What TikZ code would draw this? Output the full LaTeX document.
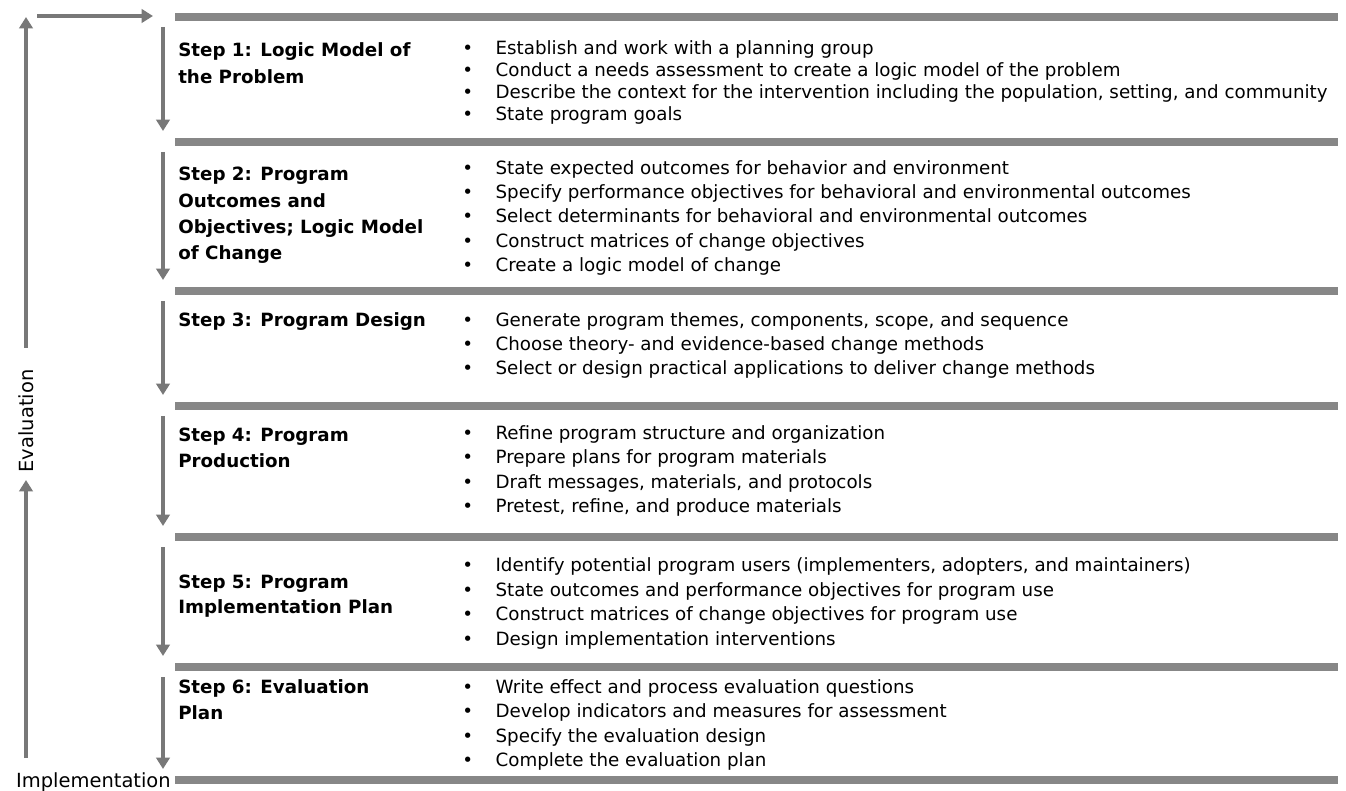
\documentclass[tikz,border=0pt]{standalone}
\usepackage{fontspec}
\setmainfont{DejaVu Sans}
\usetikzlibrary{arrows.meta}
\definecolor{bargray}{RGB}{135,135,135}
\definecolor{arrgray}{RGB}{120,120,120}

\begin{document}
\begin{tikzpicture}[x=0.75pt, y=-0.75pt,
  bar/.style={line width=6.5pt, bargray},
  flow/.style={line width=2.8pt, arrgray, -{Triangle[width=10pt,length=8.5pt]}},
  title/.style={anchor=base west, inner sep=0pt, font=\fontsize{13.7}{16}\selectfont\bfseries},
  item/.style={anchor=base west, inner sep=0pt, font=\fontsize{13.7}{16}\selectfont},
  side/.style={inner sep=0pt, font=\fontsize{14.6}{17}\selectfont}]

\useasboundingbox (0,0) rectangle (1346,791);

%barres
\foreach \y [count=\k] in {17,142,291,406,537,667,780}
   {\draw [bar] (175,\y) -- (1338,\y);
   \coordinate (top\k) at (163,\y+10);
   \coordinate (bot\k) at (163,\y-11);
   }

%fleches des etapes
\foreach \a/\b in {1/2,2/3,3/4,4/5,5/6,6/7}
   {\draw [flow] (top\a) -- (bot\b);
   }

%evaluation / implementation
\node [side, rotate=90] (eval) at (26,421) {Evaluation};
\node [side, anchor=base east] (impl) at (171,787) {Implementation};
\coordinate (lb) at (26,758);
\coordinate (ev1) at (26,348);
\coordinate (ev2) at (26,480);
\coordinate (lt) at (26,17);
\coordinate (hl) at (37,16);
\coordinate (hr) at (153,16);
\draw [flow] (lb) -- (ev2);
\draw [flow] (ev1) -- (lt);
\draw [flow] (hl) -- (hr);

%step 1
\foreach \l [count=\i from 0] in {Step 1: Logic Model of, the Problem}
   \node [title] (t1-\i) at (178,57+26.3*\i) {\l};
\foreach \l [count=\i from 0] in {Establish and work with a planning group,
   Conduct a needs assessment to create a logic model of the problem,
   {Describe the context for the intervention including the population, setting, and community},
   State program goals}
   \node [item] (p1-\i) at (462,55+22*\i) {\makebox[25pt][l]{\textbullet}\l};

%step 2
\foreach \l [count=\i from 0] in {Step 2: Program, Outcomes and, Objectives; Logic Model, of Change}
   \node [title] (t2-\i) at (178,181+26.3*\i) {\l};
\foreach \l [count=\i from 0] in {State expected outcomes for behavior and environment,
   Specify performance objectives for behavioral and environmental outcomes,
   Select determinants for behavioral and environmental outcomes,
   Construct matrices of change objectives,
   Create a logic model of change}
   \node [item] (p2-\i) at (462,174.5+24.2*\i) {\makebox[25pt][l]{\textbullet}\l};

%step 3
\node [title] (t3-0) at (178,327) {Step 3: Program Design};
\foreach \l [count=\i from 0] in {{Generate program themes, components, scope, and sequence},
   Choose theory- and evidence-based change methods,
   Select or design practical applications to deliver change methods}
   \node [item] (p3-\i) at (462,326.5+24*\i) {\makebox[25pt][l]{\textbullet}\l};

%step 4
\foreach \l [count=\i from 0] in {Step 4: Program, Production}
   \node [title] (t4-\i) at (178,441+26.3*\i) {\l};
\foreach \l [count=\i from 0] in {Refine program structure and organization,
   Prepare plans for program materials,
   {Draft messages, materials, and protocols},
   {Pretest, refine, and produce materials}}
   \node [item] (p4-\i) at (462,439.5+24.3*\i) {\makebox[25pt][l]{\textbullet}\l};

%step 5
\foreach \l [count=\i from 0] in {Step 5: Program, Implementation Plan}
   \node [title] (t5-\i) at (178,588+25.5*\i) {\l};
\foreach \l [count=\i from 0] in {{Identify potential program users (implementers, adopters, and maintainers)},
   State outcomes and performance objectives for program use,
   Construct matrices of change objectives for program use,
   Design implementation interventions}
   \node [item] (p5-\i) at (462,571.5+24.5*\i) {\makebox[25pt][l]{\textbullet}\l};

%step 6
\foreach \l [count=\i from 0] in {Step 6: Evaluation, Plan}
   \node [title] (t6-\i) at (178,693+26.3*\i) {\l};
\foreach \l [count=\i from 0] in {Write effect and process evaluation questions,
   Develop indicators and measures for assessment,
   Specify the evaluation design,
   Complete the evaluation plan}
   \node [item] (p6-\i) at (462,693.5+24.3*\i) {\makebox[25pt][l]{\textbullet}\l};

\end{tikzpicture}
\end{document}
